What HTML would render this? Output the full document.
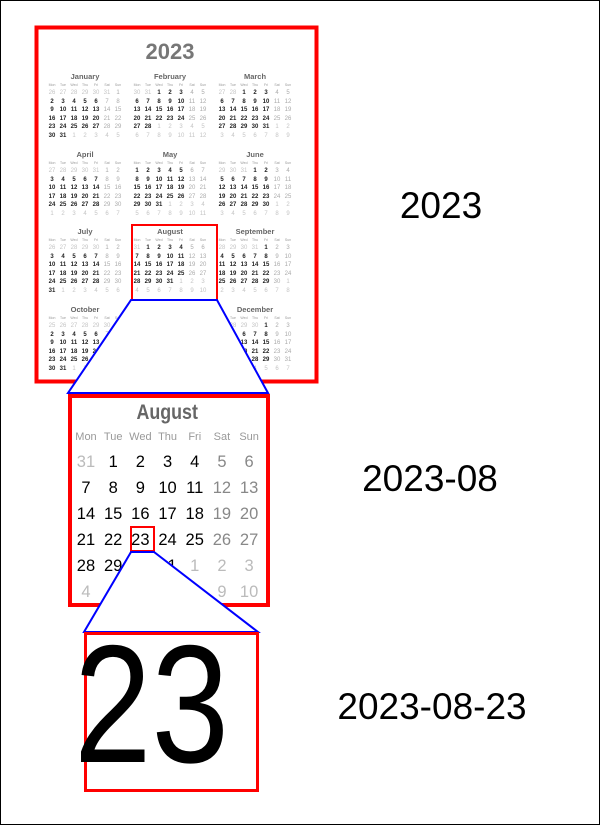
<!DOCTYPE html>
<html><head><meta charset="utf-8"><style>
*{margin:0;padding:0}
body{width:600px;height:825px;position:relative;background:#fff;overflow:hidden;font-family:"Liberation Sans",sans-serif}
#frame{position:absolute;left:0;top:0;width:598px;height:823px;border:1px solid #000}
.m{position:absolute;width:77px;text-align:center}
.m b{display:block;height:8px;line-height:8px;font-size:7.5px;color:#666}
.m u{display:grid;grid-template-columns:repeat(7,11px);height:8px;line-height:8px;font-size:3.5px;color:#999;text-decoration:none}
.m p{display:grid;grid-template-columns:repeat(7,11px);grid-auto-rows:8.6px;line-height:8.6px;font-size:6px;font-weight:bold;color:#222}
.m i,.b i{font-style:normal}
.m p i:nth-child(7n),.m p i:nth-child(7n-1){color:#aaa;font-weight:normal}
.m p i.o{color:#c4c4c4;font-weight:normal}
.b{position:absolute;left:72.4px;top:401px;width:190.4px;text-align:center}
.b b{display:block;height:24px;line-height:24px;font-size:21px;color:#666;transform:scaleX(.85)}
.b u{display:grid;grid-template-columns:repeat(7,27.2px);height:24px;line-height:24px;font-size:11px;color:#999;text-decoration:none}
.b p{display:grid;grid-template-columns:repeat(7,27.2px);grid-auto-rows:26px;line-height:26px;font-size:16.5px;color:#000}
.b p i:nth-child(7n),.b p i:nth-child(7n-1){color:#888}
.b p i.o{color:#bbb}
.lab{position:absolute;font-size:37px;color:#000;line-height:40px;white-space:nowrap;transform:translateX(-50%)}
svg{position:absolute;left:0;top:0}
</style></head><body>
<div id="frame"></div>
<div style="position:absolute;left:120px;top:39px;width:100px;text-align:center;font-size:22px;font-weight:bold;color:#777;line-height:26px">2023</div>

<div class="m" style="left:46.5px;top:73px"><b>January</b><u><i>Mon</i><i>Tue</i><i>Wed</i><i>Thu</i><i>Fri</i><i>Sat</i><i>Sun</i></u><p><i class="o">26</i><i class="o">27</i><i class="o">28</i><i class="o">29</i><i class="o">30</i><i class="o">31</i><i>1</i><i>2</i><i>3</i><i>4</i><i>5</i><i>6</i><i>7</i><i>8</i><i>9</i><i>10</i><i>11</i><i>12</i><i>13</i><i>14</i><i>15</i><i>16</i><i>17</i><i>18</i><i>19</i><i>20</i><i>21</i><i>22</i><i>23</i><i>24</i><i>25</i><i>26</i><i>27</i><i>28</i><i>29</i><i>30</i><i>31</i><i class="o">1</i><i class="o">2</i><i class="o">3</i><i class="o">4</i><i class="o">5</i></p></div>
<div class="m" style="left:131.5px;top:73px"><b>February</b><u><i>Mon</i><i>Tue</i><i>Wed</i><i>Thu</i><i>Fri</i><i>Sat</i><i>Sun</i></u><p><i class="o">30</i><i class="o">31</i><i>1</i><i>2</i><i>3</i><i>4</i><i>5</i><i>6</i><i>7</i><i>8</i><i>9</i><i>10</i><i>11</i><i>12</i><i>13</i><i>14</i><i>15</i><i>16</i><i>17</i><i>18</i><i>19</i><i>20</i><i>21</i><i>22</i><i>23</i><i>24</i><i>25</i><i>26</i><i>27</i><i>28</i><i class="o">1</i><i class="o">2</i><i class="o">3</i><i class="o">4</i><i class="o">5</i><i class="o">6</i><i class="o">7</i><i class="o">8</i><i class="o">9</i><i class="o">10</i><i class="o">11</i><i class="o">12</i></p></div>
<div class="m" style="left:216.5px;top:73px"><b>March</b><u><i>Mon</i><i>Tue</i><i>Wed</i><i>Thu</i><i>Fri</i><i>Sat</i><i>Sun</i></u><p><i class="o">27</i><i class="o">28</i><i>1</i><i>2</i><i>3</i><i>4</i><i>5</i><i>6</i><i>7</i><i>8</i><i>9</i><i>10</i><i>11</i><i>12</i><i>13</i><i>14</i><i>15</i><i>16</i><i>17</i><i>18</i><i>19</i><i>20</i><i>21</i><i>22</i><i>23</i><i>24</i><i>25</i><i>26</i><i>27</i><i>28</i><i>29</i><i>30</i><i>31</i><i class="o">1</i><i class="o">2</i><i class="o">3</i><i class="o">4</i><i class="o">5</i><i class="o">6</i><i class="o">7</i><i class="o">8</i><i class="o">9</i></p></div>

<div class="m" style="left:46.5px;top:151px"><b>April</b><u><i>Mon</i><i>Tue</i><i>Wed</i><i>Thu</i><i>Fri</i><i>Sat</i><i>Sun</i></u><p><i class="o">27</i><i class="o">28</i><i class="o">29</i><i class="o">30</i><i class="o">31</i><i>1</i><i>2</i><i>3</i><i>4</i><i>5</i><i>6</i><i>7</i><i>8</i><i>9</i><i>10</i><i>11</i><i>12</i><i>13</i><i>14</i><i>15</i><i>16</i><i>17</i><i>18</i><i>19</i><i>20</i><i>21</i><i>22</i><i>23</i><i>24</i><i>25</i><i>26</i><i>27</i><i>28</i><i>29</i><i>30</i><i class="o">1</i><i class="o">2</i><i class="o">3</i><i class="o">4</i><i class="o">5</i><i class="o">6</i><i class="o">7</i></p></div>
<div class="m" style="left:131.5px;top:151px"><b>May</b><u><i>Mon</i><i>Tue</i><i>Wed</i><i>Thu</i><i>Fri</i><i>Sat</i><i>Sun</i></u><p><i>1</i><i>2</i><i>3</i><i>4</i><i>5</i><i>6</i><i>7</i><i>8</i><i>9</i><i>10</i><i>11</i><i>12</i><i>13</i><i>14</i><i>15</i><i>16</i><i>17</i><i>18</i><i>19</i><i>20</i><i>21</i><i>22</i><i>23</i><i>24</i><i>25</i><i>26</i><i>27</i><i>28</i><i>29</i><i>30</i><i>31</i><i class="o">1</i><i class="o">2</i><i class="o">3</i><i class="o">4</i><i class="o">5</i><i class="o">6</i><i class="o">7</i><i class="o">8</i><i class="o">9</i><i class="o">10</i><i class="o">11</i></p></div>
<div class="m" style="left:216.5px;top:151px"><b>June</b><u><i>Mon</i><i>Tue</i><i>Wed</i><i>Thu</i><i>Fri</i><i>Sat</i><i>Sun</i></u><p><i class="o">29</i><i class="o">30</i><i class="o">31</i><i>1</i><i>2</i><i>3</i><i>4</i><i>5</i><i>6</i><i>7</i><i>8</i><i>9</i><i>10</i><i>11</i><i>12</i><i>13</i><i>14</i><i>15</i><i>16</i><i>17</i><i>18</i><i>19</i><i>20</i><i>21</i><i>22</i><i>23</i><i>24</i><i>25</i><i>26</i><i>27</i><i>28</i><i>29</i><i>30</i><i class="o">1</i><i class="o">2</i><i class="o">3</i><i class="o">4</i><i class="o">5</i><i class="o">6</i><i class="o">7</i><i class="o">8</i><i class="o">9</i></p></div>

<div class="m" style="left:46.5px;top:228px"><b>July</b><u><i>Mon</i><i>Tue</i><i>Wed</i><i>Thu</i><i>Fri</i><i>Sat</i><i>Sun</i></u><p><i class="o">26</i><i class="o">27</i><i class="o">28</i><i class="o">29</i><i class="o">30</i><i>1</i><i>2</i><i>3</i><i>4</i><i>5</i><i>6</i><i>7</i><i>8</i><i>9</i><i>10</i><i>11</i><i>12</i><i>13</i><i>14</i><i>15</i><i>16</i><i>17</i><i>18</i><i>19</i><i>20</i><i>21</i><i>22</i><i>23</i><i>24</i><i>25</i><i>26</i><i>27</i><i>28</i><i>29</i><i>30</i><i>31</i><i class="o">1</i><i class="o">2</i><i class="o">3</i><i class="o">4</i><i class="o">5</i><i class="o">6</i></p></div>
<div class="m" style="left:131.5px;top:228px"><b>August</b><u><i>Mon</i><i>Tue</i><i>Wed</i><i>Thu</i><i>Fri</i><i>Sat</i><i>Sun</i></u><p><i class="o">31</i><i>1</i><i>2</i><i>3</i><i>4</i><i>5</i><i>6</i><i>7</i><i>8</i><i>9</i><i>10</i><i>11</i><i>12</i><i>13</i><i>14</i><i>15</i><i>16</i><i>17</i><i>18</i><i>19</i><i>20</i><i>21</i><i>22</i><i>23</i><i>24</i><i>25</i><i>26</i><i>27</i><i>28</i><i>29</i><i>30</i><i>31</i><i class="o">1</i><i class="o">2</i><i class="o">3</i><i class="o">4</i><i class="o">5</i><i class="o">6</i><i class="o">7</i><i class="o">8</i><i class="o">9</i><i class="o">10</i></p></div>
<div class="m" style="left:216.5px;top:228px"><b>September</b><u><i>Mon</i><i>Tue</i><i>Wed</i><i>Thu</i><i>Fri</i><i>Sat</i><i>Sun</i></u><p><i class="o">28</i><i class="o">29</i><i class="o">30</i><i class="o">31</i><i>1</i><i>2</i><i>3</i><i>4</i><i>5</i><i>6</i><i>7</i><i>8</i><i>9</i><i>10</i><i>11</i><i>12</i><i>13</i><i>14</i><i>15</i><i>16</i><i>17</i><i>18</i><i>19</i><i>20</i><i>21</i><i>22</i><i>23</i><i>24</i><i>25</i><i>26</i><i>27</i><i>28</i><i>29</i><i>30</i><i class="o">1</i><i class="o">2</i><i class="o">3</i><i class="o">4</i><i class="o">5</i><i class="o">6</i><i class="o">7</i><i class="o">8</i></p></div>

<div class="m" style="left:46.5px;top:306px"><b>October</b><u><i>Mon</i><i>Tue</i><i>Wed</i><i>Thu</i><i>Fri</i><i>Sat</i><i>Sun</i></u><p><i class="o">25</i><i class="o">26</i><i class="o">27</i><i class="o">28</i><i class="o">29</i><i class="o">30</i><i>1</i><i>2</i><i>3</i><i>4</i><i>5</i><i>6</i><i>7</i><i>8</i><i>9</i><i>10</i><i>11</i><i>12</i><i>13</i><i>14</i><i>15</i><i>16</i><i>17</i><i>18</i><i>19</i><i>20</i><i>21</i><i>22</i><i>23</i><i>24</i><i>25</i><i>26</i><i>27</i><i>28</i><i>29</i><i>30</i><i>31</i><i class="o">1</i><i class="o">2</i><i class="o">3</i><i class="o">4</i><i class="o">5</i></p></div>
<div class="m" style="left:131.5px;top:306px"><b>November</b><u><i>Mon</i><i>Tue</i><i>Wed</i><i>Thu</i><i>Fri</i><i>Sat</i><i>Sun</i></u><p><i class="o">30</i><i class="o">31</i><i>1</i><i>2</i><i>3</i><i>4</i><i>5</i><i>6</i><i>7</i><i>8</i><i>9</i><i>10</i><i>11</i><i>12</i><i>13</i><i>14</i><i>15</i><i>16</i><i>17</i><i>18</i><i>19</i><i>20</i><i>21</i><i>22</i><i>23</i><i>24</i><i>25</i><i>26</i><i>27</i><i>28</i><i>29</i><i>30</i><i class="o">1</i><i class="o">2</i><i class="o">3</i><i class="o">4</i><i class="o">5</i><i class="o">6</i><i class="o">7</i><i class="o">8</i><i class="o">9</i><i class="o">10</i></p></div>
<div class="m" style="left:216.5px;top:306px"><b>December</b><u><i>Mon</i><i>Tue</i><i>Wed</i><i>Thu</i><i>Fri</i><i>Sat</i><i>Sun</i></u><p><i class="o">27</i><i class="o">28</i><i class="o">29</i><i class="o">30</i><i>1</i><i>2</i><i>3</i><i>4</i><i>5</i><i>6</i><i>7</i><i>8</i><i>9</i><i>10</i><i>11</i><i>12</i><i>13</i><i>14</i><i>15</i><i>16</i><i>17</i><i>18</i><i>19</i><i>20</i><i>21</i><i>22</i><i>23</i><i>24</i><i>25</i><i>26</i><i>27</i><i>28</i><i>29</i><i>30</i><i>31</i><i class="o">1</i><i class="o">2</i><i class="o">3</i><i class="o">4</i><i class="o">5</i><i class="o">6</i><i class="o">7</i></p></div>

<svg width="600" height="825">
<rect x="36.5" y="27.5" width="280" height="354" fill="none" stroke="#f00" stroke-width="4"/>
<rect x="132" y="225" width="85" height="75" fill="none" stroke="#f00" stroke-width="2"/>
<polygon points="131,300 217,300 268,393 68,393" fill="#fff" stroke="#00f" stroke-width="2"/>
<rect x="70" y="396" width="198" height="209" fill="#fff" stroke="#f00" stroke-width="4"/>
</svg>

<div class="b"><b>August</b><u><i>Mon</i><i>Tue</i><i>Wed</i><i>Thu</i><i>Fri</i><i>Sat</i><i>Sun</i></u><p><i class="o">31</i><i>1</i><i>2</i><i>3</i><i>4</i><i>5</i><i>6</i><i>7</i><i>8</i><i>9</i><i>10</i><i>11</i><i>12</i><i>13</i><i>14</i><i>15</i><i>16</i><i>17</i><i>18</i><i>19</i><i>20</i><i>21</i><i>22</i><i>23</i><i>24</i><i>25</i><i>26</i><i>27</i><i>28</i><i>29</i><i>30</i><i>31</i><i class="o">1</i><i class="o">2</i><i class="o">3</i><i class="o">4</i><i class="o">5</i><i class="o">6</i><i class="o">7</i><i class="o">8</i><i class="o">9</i><i class="o">10</i></p></div>

<svg width="600" height="825">
<rect x="131" y="527" width="23" height="24" fill="none" stroke="#f00" stroke-width="2"/>
<polygon points="131,552 154,552 258,632 84,632" fill="#fff" stroke="#00f" stroke-width="2"/>
<rect x="85.5" y="633.5" width="172" height="157" fill="#fff" stroke="#f00" stroke-width="3"/>
<text x="74" y="762" font-family="Liberation Sans, sans-serif" font-size="168" textLength="155" lengthAdjust="spacingAndGlyphs" fill="#000">23</text>
</svg>

<div class="lab" style="left:441px;top:186px">2023</div>
<div class="lab" style="left:430px;top:459px">2023-08</div>
<div class="lab" style="left:432px;top:687px">2023-08-23</div>
</body></html>
